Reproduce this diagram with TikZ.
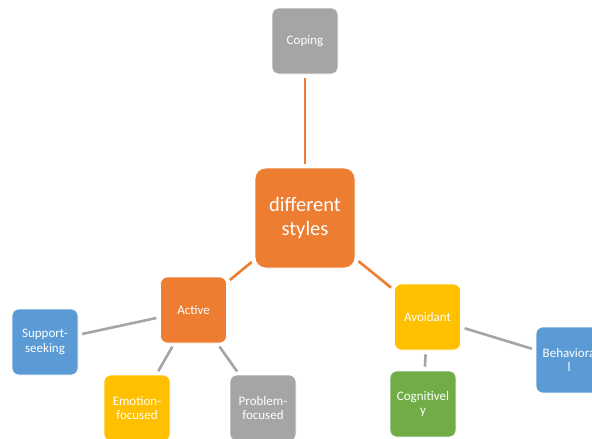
\documentclass[tikz,border=0pt]{standalone}
\usepackage{fontspec}
\setmainfont{Carlito}
\usetikzlibrary{positioning}
\definecolor{boxOrange}{HTML}{ED7D31}
\definecolor{boxGray}{HTML}{A5A5A5}
\definecolor{boxBlue}{HTML}{5B9BD5}
\definecolor{boxYellow}{HTML}{FFC000}
\definecolor{boxGreen}{HTML}{70AD47}
\tikzset{
    smallBox/.style={draw=white, line width=0.6pt, rounded corners=7pt,
        minimum width=66pt, minimum height=66pt, inner sep=1pt,
        text=white, align=center, font=\fontsize{13}{14.5}\selectfont},
    bigBox/.style={smallBox, rounded corners=11pt, minimum width=100pt,
        minimum height=100pt, font=\fontsize{20.5}{24}\selectfont},
    orangeLink/.style={draw=boxOrange, line width=2.6pt, shorten <=4pt, shorten >=4pt},
    grayLink/.style={draw=boxGray, line width=2.6pt, shorten <=4pt, shorten >=4pt}
}
\begin{document}
\begin{tikzpicture}[x=1pt, y=-1pt]
          \useasboundingbox (0,0) rectangle (592,439);
          \clip (0,0) rectangle (592,439);
          % top and centre
          \node[smallBox, fill=boxGray] (coping) at (305,41) {Coping};
          \node[bigBox, fill=boxOrange] (styles) at (305,218) {different\\styles};
          % active branch
          \node[smallBox, fill=boxOrange] (active) at (193.5,310) {Active};
          \node[smallBox, fill=boxBlue] (support) at (45,342) {Support-\\seeking};
          \node[smallBox, fill=boxYellow] (emotion) at (137,408) {Emotion-\\focused};
          \node[smallBox, fill=boxGray] (problem) at (263,408) {Problem-\\focused};
          % avoidant branch
          \node[smallBox, fill=boxYellow] (avoidant) at (427.5,317) {Avoidant};
          \node[smallBox, fill=boxGreen] (cognitive) at (423,404) {Cognitivel\\y};
          \node[smallBox, fill=boxBlue] (behavioral) at (569,360) {Behaviora\\l};
          % links
          \draw[orangeLink] (coping) -- (styles);
          \draw[orangeLink] (styles) -- (active);
          \draw[orangeLink] (styles) -- (avoidant);
          \draw[grayLink] (active) -- (support);
          \draw[grayLink] (active) -- (emotion);
          \draw[grayLink] (active) -- (problem);
          \draw[grayLink] (avoidant) -- (cognitive);
          \draw[grayLink] (avoidant) -- (behavioral);
        \end{tikzpicture}
\end{document}
